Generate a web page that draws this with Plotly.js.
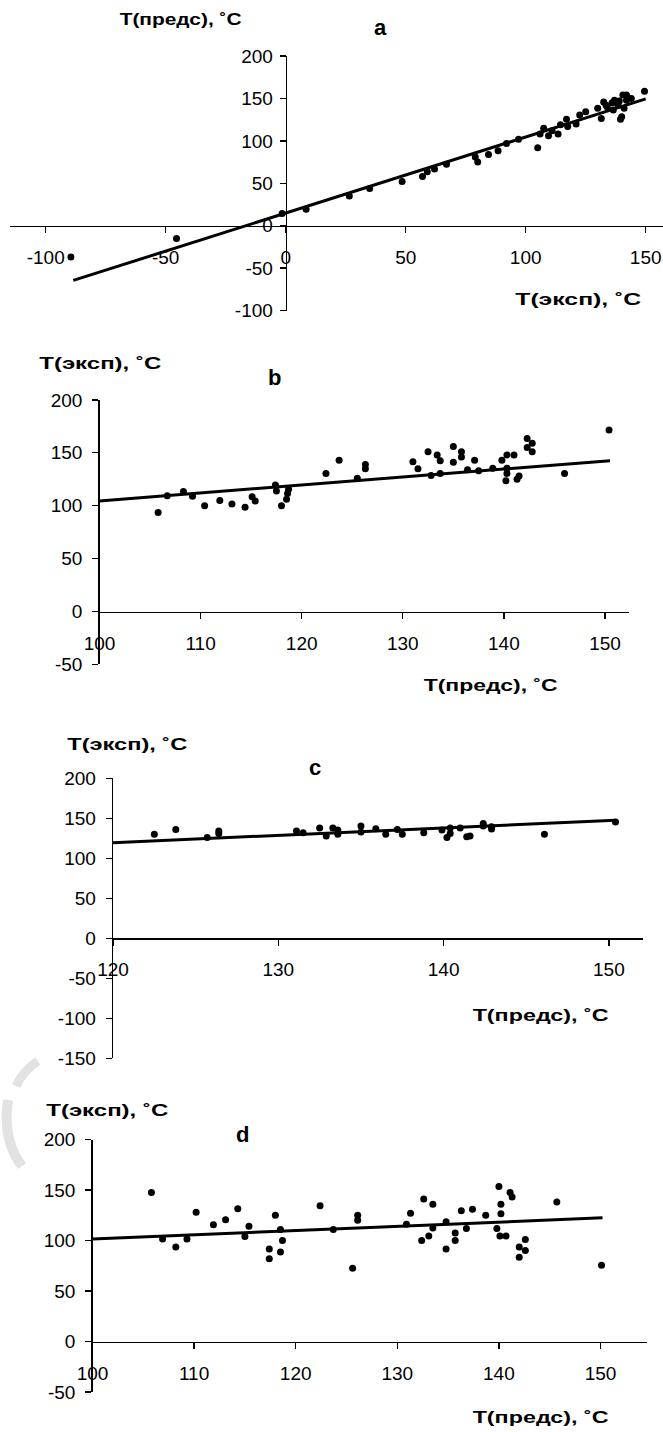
<!DOCTYPE html>
<html>
<head>
<meta charset="utf-8">
<script src="https://cdn.plot.ly/plotly-3.0.1.min.js"></script>
<style>html,body{margin:0;padding:0;background:#fff;}#chart{width:663px;height:1432px;}</style>
</head>
<body>
<div id="chart"></div>
<script>
// ---------- Panel a: T(предс) vs T(эксп) ----------
const aX = [-89.5, -45.5, -1.5, 8.5, 26.5, 35, 48.5, 57, 59, 62, 67, 79, 80, 84.5, 88.5, 92, 97, 105, 106, 107.5, 109.5, 111, 113.5, 114.5, 117, 117.5, 121, 122.5, 125, 130, 131.5, 132.5, 133.5, 134, 136, 136.5, 137, 138.5, 139, 139.5, 140, 140.5, 141, 142, 142, 144, 149.5];
const aY = [-37, -15, 14.5, 19.5, 35, 44, 52, 58, 63.5, 67, 72.5, 81, 75, 84, 88.5, 97, 102, 92, 108, 115, 106, 112, 108, 119, 125.5, 117, 120, 130.5, 134.5, 138.5, 126.5, 146, 142, 140, 145, 136.5, 148, 142, 147, 125.5, 128.5, 154, 138.5, 154, 148, 150, 158.5];
const aTrendX = [-88.5, 150];
const aTrendY = [-64.5, 149.5];
const aXTicks = [-100, -50, 0, 50, 100, 150];
const aXTickText = ['-100', '-50', '0', '50', '100', '150'];
const aYTicks = [-100, -50, 0, 50, 100, 150, 200];
const aYTickText = ['-100', '-50', '0', '50', '100', '150', '200'];

// ---------- Panel b ----------
const bX = [105.8, 106.7, 108.3, 109.2, 110.4, 111.9, 113.1, 114.4, 115.1, 115.4, 117.4, 117.5, 118, 118.6, 118.5, 118.7, 122.4, 123.7, 125.5, 126.3, 126.3, 131, 131.5, 132.5, 132.8, 133.4, 133.7, 133.7, 135, 135, 135.8, 135.8, 136.4, 137.1, 137.5, 138.9, 139.8, 140.3, 140.3, 140.3, 140.2, 141, 141.3, 141.5, 142.3, 142.3, 142.8, 142.8, 146, 150.4];
const bY = [93.5, 109.5, 113.5, 109, 100, 105, 101.5, 98.5, 108.5, 104.5, 119.5, 114, 100, 111.5, 106, 115.5, 130.5, 143, 126, 139, 135, 141.5, 135, 151, 128.5, 148, 142.5, 130.5, 156, 141, 151, 146, 134, 143, 133, 135.5, 143, 148, 135.5, 130.5, 123.5, 148, 125, 128, 163.5, 155, 159, 151, 130.5, 171.5];
const bTrendX = [100, 150.5];
const bTrendY = [104.5, 142.5];
const bXTicks = [100, 110, 120, 130, 140, 150];
const bXTickText = ['100', '110', '120', '130', '140', '150'];
const bYTicks = [-50, 0, 50, 100, 150, 200];
const bYTickText = ['-50', '0', '50', '100', '150', '200'];

// ---------- Panel c ----------
const cX = [122.5, 123.8, 125.7, 126.4, 126.4, 131.1, 131.5, 132.5, 132.9, 133.3, 133.6, 133.6, 135, 135, 135.9, 136.5, 137.2, 137.5, 138.8, 139.9, 140.2, 140.4, 140.4, 141, 141.4, 141.6, 142.4, 142.4, 142.9, 142.9, 146.1, 150.4];
const cY = [130, 136, 126, 134, 131, 134, 132, 138, 128, 138, 135.5, 130, 140.5, 133, 137, 130, 136, 130, 132, 135.5, 126, 131, 138, 138, 127, 128, 143.5, 140.5, 139.5, 136.5, 130, 145.5];
const cTrendX = [120, 150.4];
const cTrendY = [119.5, 147.5];
const cXTicks = [120, 130, 140, 150];
const cXTickText = ['120', '130', '140', '150'];
const cYTicks = [-150, -100, -50, 0, 50, 100, 150, 200];
const cYTickText = ['-150', '-100', '-50', '0', '50', '100', '150', '200'];

// ---------- Panel d ----------
const dX = [105.8, 106.9, 108.2, 109.3, 110.2, 111.9, 113.1, 114.3, 115, 115.4, 117.4, 117.4, 118, 118.5, 118.5, 118.7, 122.4, 123.7, 125.6, 126.1, 126.1, 130.9, 131.3, 132.4, 132.6, 133.1, 133.5, 133.5, 134.8, 134.8, 135.7, 135.7, 136.3, 136.8, 137.4, 138.7, 139.8, 140, 140.2, 140.2, 140.1, 140.7, 141.1, 141.3, 142, 142, 142.6, 142.6, 145.7, 150.1];
const dY = [147.5, 101.5, 93.5, 101.5, 128, 115.5, 120.5, 131.5, 104, 114, 91.5, 82, 125, 88.5, 111, 100, 134.5, 111, 72.5, 125, 120, 116, 127, 100, 141, 104.5, 136, 112.5, 118.5, 91.5, 107.5, 100, 129.5, 112, 131, 125, 112, 153.5, 136, 126.5, 104.5, 104.5, 147.5, 143, 93.5, 83.5, 101, 90, 138, 75.5];
const dTrendX = [100, 150.2];
const dTrendY = [101.5, 122.5];
const dXTicks = [100, 110, 120, 130, 140, 150];
const dXTickText = ['100', '110', '120', '130', '140', '150'];
const dYTicks = [-50, 0, 50, 100, 150, 200];
const dYTickText = ['-50', '0', '50', '100', '150', '200'];

// ---------- Drawing ----------
const W = 663, H = 1432;
const FONT = 'Liberation Sans, Arial, sans-serif';
const px = v => v / W;          // pixel -> paper x
const py = v => 1 - v / H;      // pixel -> paper y

const markerStyle = {color: '#000', size: 7, symbol: 'circle'};
const lineStyle = {color: '#000', width: 3};

function pts(x, y, xa, ya) {
  return {type: 'scatter', mode: 'markers', x: x, y: y, xaxis: xa, yaxis: ya,
          marker: markerStyle, hoverinfo: 'skip', cliponaxis: false};
}
function trend(x, y, xa, ya) {
  return {type: 'scatter', mode: 'lines', x: x, y: y, xaxis: xa, yaxis: ya,
          line: lineStyle, hoverinfo: 'skip'};
}

const data = [
  trend(aTrendX, aTrendY, 'x', 'y'), pts(aX, aY, 'x', 'y'),
  trend(bTrendX, bTrendY, 'x2', 'y2'), pts(bX, bY, 'x2', 'y2'),
  trend(cTrendX, cTrendY, 'x3', 'y3'), pts(cX, cY, 'x3', 'y3'),
  trend(dTrendX, dTrendY, 'x4', 'y4'), pts(dX, dY, 'x4', 'y4')
];

const axisBase = {
  showgrid: false, zeroline: false, showline: true, linecolor: '#000', linewidth: 1.3,
  ticks: 'outside', ticklen: 6, tickwidth: 1.3, tickcolor: '#000',
  tickfont: {family: FONT, size: 19, color: '#000'}, tickmode: 'array', fixedrange: true
};
function xa(o) { return Object.assign({}, axisBase, {ticklabelstandoff: 8}, o); }
function ya(o) { return Object.assign({}, axisBase, {ticklabelstandoff: 6}, o); }

const layout = {
  width: W, height: H, margin: {l: 0, r: 0, t: 0, b: 0},
  paper_bgcolor: '#fff', plot_bgcolor: 'rgba(0,0,0,0)', showlegend: false,
  xaxis: xa({domain: [px(10), 1], range: [(10 - 285.7) / 2.4, (663 - 285.7) / 2.4],
             anchor: 'free', position: py(225.7), tickvals: aXTicks, ticktext: aXTickText}),
  yaxis: ya({domain: [py(310.5), py(56.1)], range: [-100, 200], ticklabelstandoff: 3,
             anchor: 'free', position: px(285.7), tickvals: aYTicks, ticktext: aYTickText}),
  xaxis2: xa({domain: [px(99.5), px(629)], range: [100, 100 + (629 - 99.5) / 10.11],
              anchor: 'free', position: py(611.5), tickvals: bXTicks, ticktext: bXTickText}),
  yaxis2: ya({domain: [py(664.4), py(399.9)], range: [-50, 200], anchor: 'x2',
              tickvals: bYTicks, ticktext: bYTickText}),
  xaxis3: xa({domain: [px(113), px(643)], range: [120, 120 + (643 - 113) / 16.53],
              anchor: 'free', position: py(938.3), tickvals: cXTicks, ticktext: cXTickText}),
  yaxis3: ya({domain: [py(1058.3), py(778.3)], range: [-150, 200], anchor: 'x3',
              tickvals: cYTicks, ticktext: cYTickText}),
  xaxis4: xa({domain: [px(92.5), px(647)], range: [100, 100 + (647 - 92.5) / 10.16],
              anchor: 'free', position: py(1341.5), tickvals: dXTicks, ticktext: dXTickText}),
  yaxis4: ya({domain: [py(1392), py(1139.5)], range: [-50, 200], anchor: 'x4',
              tickvals: dYTicks, ticktext: dYTickText}),
  annotations: [],
  shapes: [
    // faint watermark remnants in the reference
    {type: 'path', xref: 'paper', yref: 'paper', layer: 'below',
     path: `M ${px(38)} ${py(1061)} Q ${px(24)} ${py(1070)} ${px(16)} ${py(1086)}`,
     line: {color: '#e2e2e2', width: 9}},
    {type: 'path', xref: 'paper', yref: 'paper', layer: 'below',
     path: `M ${px(8)} ${py(1100)} Q ${px(2)} ${py(1140)} ${px(22)} ${py(1166)}`,
     line: {color: '#e2e2e2', width: 10}}
  ]
};

const stretch = [];
function label(text, cx, cy, size, width) {
  layout.annotations.push({text: '<b>' + text + '</b>', xref: 'paper', yref: 'paper',
    x: px(cx), y: py(cy), xanchor: 'center', yanchor: 'middle', showarrow: false,
    font: {family: FONT, size: size, color: '#000'}});
  stretch.push(width || 0);
}
label('T(предс), ˚C', 180, 19, 17, 122);
label('a', 381, 28, 22);
label('T(эксп), ˚C', 578, 300, 17, 126);

label('T(эксп), ˚C', 100, 363, 17, 122);
label('b', 274, 377, 22);
label('T(предс), ˚C', 490, 685, 17, 134);

label('T(эксп), ˚C', 127, 745, 17, 120);
label('c', 315, 767, 22);
label('T(предс), ˚C', 540, 1015, 17, 136);

label('T(эксп), ˚C', 107, 1110, 17, 122);
label('d', 242, 1134, 22);
label('T(предс), ˚C', 540, 1417, 17, 136);

Plotly.newPlot('chart', data, layout, {staticPlot: true, displayModeBar: false}).then(gd => {
  // the reference's axis captions are drawn horizontally widened
  gd.querySelectorAll('.annotation').forEach((g, i) => {
    const t = g.querySelector('text.annotation-text');
    if (t && stretch[i]) {
      t.setAttribute('textLength', stretch[i]);
      t.setAttribute('lengthAdjust', 'spacingAndGlyphs');
    }
  });
});
</script>
</body>
</html>
